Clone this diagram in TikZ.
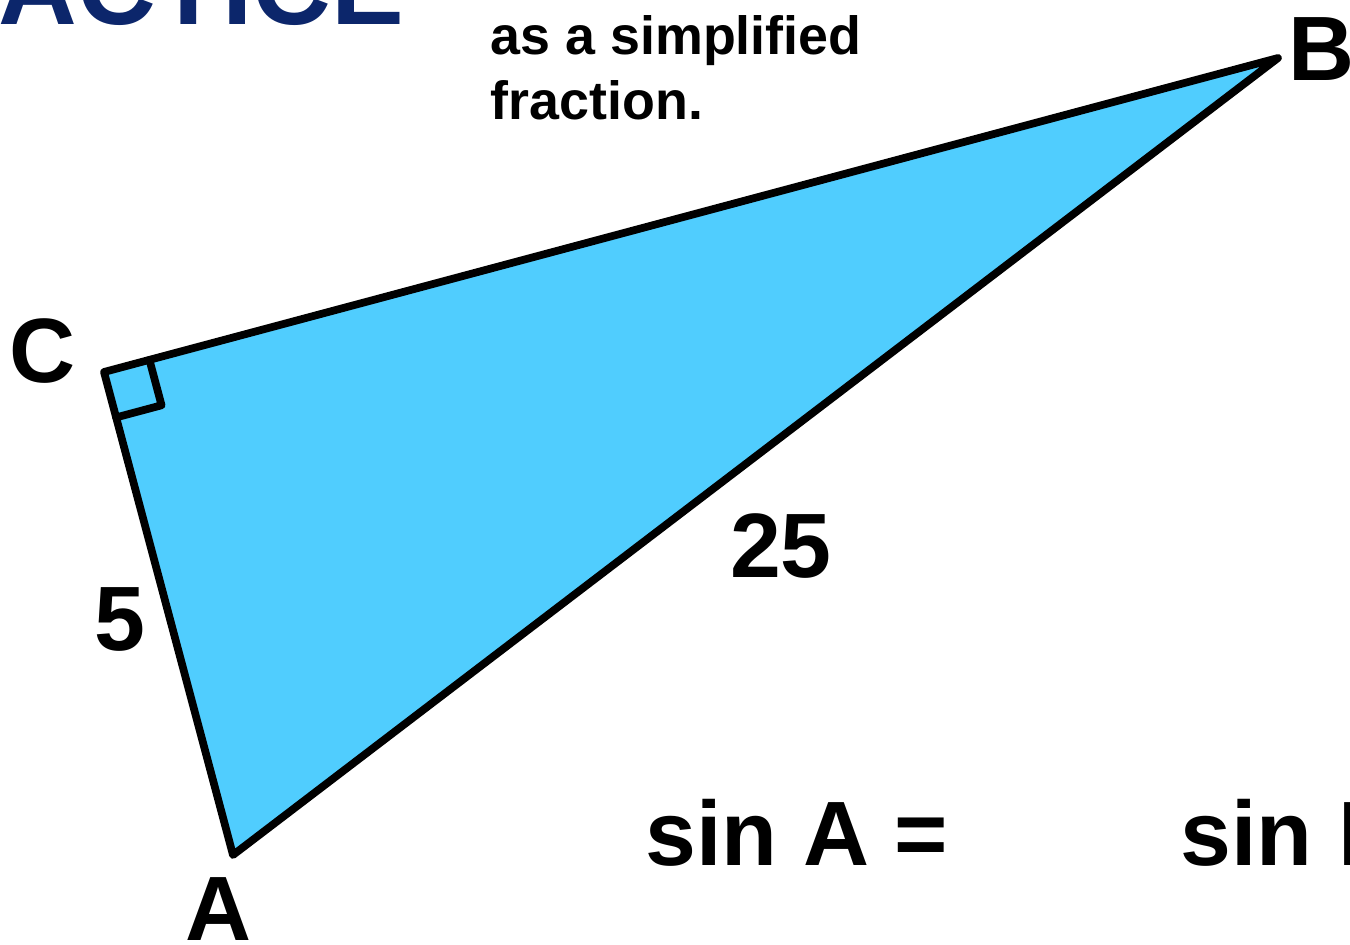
\documentclass[tikz,border=0pt]{standalone}
\usepackage{fontspec}
\setmainfont{Liberation Sans}
\usepackage{xcolor}
\usetikzlibrary{calc}
\definecolor{triblue}{HTML}{50CDFE}
\definecolor{wordnavy}{HTML}{0C266B}
\tikzset{
  biglabel/.style={font=\fontsize{26}{30}\selectfont\bfseries, inner sep=0pt},
  edge/.style={line width=2.2pt, line join=round, line cap=round},
}
\begin{document}
\begin{tikzpicture}[x=0.01cm, y=-0.01cm]
    \clip (0,0) rectangle (1350,945);

    % Title (cut off by the frame)
    \node (title) [anchor=base east, inner sep=0pt, text=wordnavy, font=\fontsize{31}{34}\selectfont\bfseries] at (405,24) {PRACTICE};
    \node (task) [anchor=north west, inner sep=0pt, align=left, font=\fontsize{15.3}{18.5}\selectfont\bfseries] at (490,15) {as a simplified\\fraction.};

    % Vertices
    \coordinate (C) at (104,372);
    \coordinate (B) at (1278,58);
    \coordinate (A) at (233,855);
    \coordinate (sqa) at ($(C)!0.47cm!(B)$);
    \coordinate (sqb) at ($(C)!0.47cm!(A)$);

    % Triangle
    \fill [triblue] (A) -- (C) -- (B) -- cycle;
    \draw [edge] (sqa) -- ($(sqa)+(sqb)-(C)$) -- (sqb);
    \draw [edge] (A) -- (C) -- (B) -- cycle;

    % Labels
    \node (labC) [biglabel, anchor=base] at (43,382) {C};
    \node (labB) [biglabel, anchor=base] at (1322,80) {B};
    \node (labA) [biglabel, anchor=base] at (219,940) {A};
    \node (side5) [biglabel, anchor=base] at (120,650) {5};
    \node (side25) [biglabel, anchor=base] at (781,577) {25};

    \node (sinA) [biglabel, anchor=base west] at (645,865) {sin A =};
    \node (sinB) [biglabel, anchor=base west] at (1180,865) {sin B =};
\end{tikzpicture}
\end{document}
